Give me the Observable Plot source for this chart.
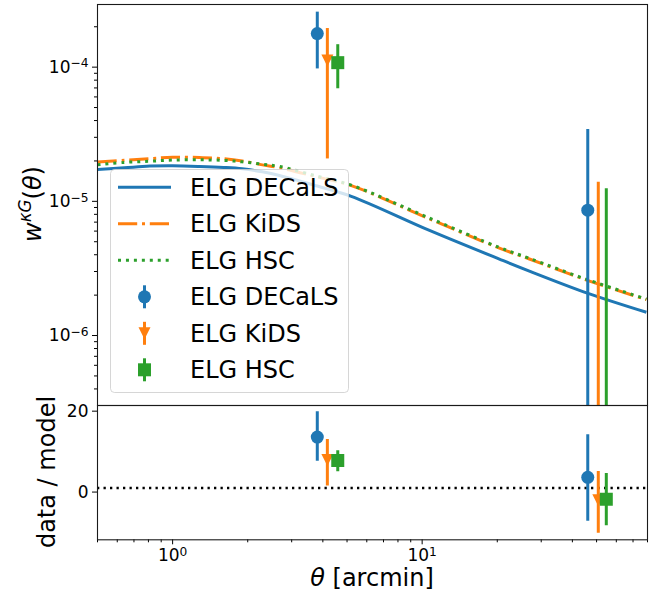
<!DOCTYPE html>
<html>
<head>
<meta charset="utf-8">
<script src="https://cdn.jsdelivr.net/npm/d3@7"></script>
<script src="https://cdn.jsdelivr.net/npm/@observablehq/plot@0.6"></script>
<style>
  body { margin: 0; background: #fff; font-family: "DejaVu Sans", sans-serif; }
  #wrap { position: relative; width: 657px; height: 597px; overflow: hidden; background: #fff; }
  #top, #bot, #legend { position: absolute; left: 0; }
  #top { top: 0; }
  #bot { top: 404px; }
  #legend { left: 110px; top: 168.5px; }
  .lab { position: absolute; font-family: "DejaVu Sans", sans-serif; font-size: 24px; line-height: 1;
         white-space: nowrap; color: #000; transform: translate(-50%, -50%); }
  .rot { transform: translate(-50%, -50%) rotate(-90deg); }
  .sup { font-size: 0.7em; vertical-align: 0.55em; }
</style>
</head>
<body>
<div id="wrap">
  <div id="top"></div>
  <div id="bot"></div>
  <div id="legend"></div>
  <div class="lab rot" style="left:30.5px;top:203.5px"><i>w</i><span class="sup"><i>κG</i></span>(<i>θ</i>)</div>
  <div class="lab rot" style="left:47px;top:472px">data / model</div>
  <div class="lab" style="left:372px;top:578px"><i>θ</i> [arcmin]</div>
</div>
<script>
// ---------------- data ----------------
const seriesNames = ["ELG DECaLS", "ELG KiDS", "ELG HSC"];

// model curves w^{kG}(theta)
const modelTheta   = [0.5, 0.64, 0.81, 1.0, 1.28, 1.6, 1.9, 2.29, 2.68, 3.8, 5.2, 10.7, 20.4, 26.9, 45.9, 79.2];
const modelDECaLS  = [1.73e-5, 1.78e-5, 1.83e-5, 1.84e-5, 1.82e-5, 1.79e-5, 1.75e-5, 1.66e-5, 1.56e-5, 1.30e-5, 1.09e-5, 6.07e-6, 3.71e-6, 3.02e-6, 2.07e-6, 1.49e-6];
const modelKiDS    = [1.96e-5, 2.02e-5, 2.08e-5, 2.13e-5, 2.12e-5, 2.08e-5, 2.00e-5, 1.87e-5, 1.78e-5, 1.52e-5, 1.31e-5, 7.40e-6, 4.48e-6, 3.72e-6, 2.58e-6, 1.85e-6];
const modelHSC     = [1.87e-5, 1.95e-5, 1.99e-5, 2.03e-5, 2.04e-5, 2.02e-5, 1.97e-5, 1.89e-5, 1.82e-5, 1.54e-5, 1.32e-5, 7.50e-6, 4.53e-6, 3.76e-6, 2.61e-6, 1.87e-6];

// measurements (top panel)
const thetaDECaLS = [3.80, 46.1];
const thetaKiDS   = [4.17, 50.8];
const thetaHSC    = [4.59, 54.7];
const wDECaLS   = [1.78e-4, 8.6e-6];
const wDECaLSLo = [9.7e-5, -1.7e-5];
const wDECaLSHi = [2.57e-4, 3.43e-5];
const wKiDS     = [1.12e-4, -4.9e-6];
const wKiDSLo   = [2.07e-5, -2.5e-5];
const wKiDSHi   = [1.94e-4, 1.39e-5];
const wHSC      = [1.08e-4, -4.4e-6];
const wHSCLo    = [6.9e-5, -2.0e-5];
const wHSCHi    = [1.47e-4, 1.24e-5];

// data / model (bottom panel)
const rDECaLS   = [13.6, 3.65];
const rDECaLSLo = [7.6, -7.2];
const rDECaLSHi = [19.85, 14.2];
const rKiDS     = [7.9, -2.0];
const rKiDSLo   = [1.5, -10.2];
const rKiDSHi   = [13.0, 5.1];
const rHSC      = [7.8, -1.8];
const rHSCLo    = [5.0, -8.3];
const rHSCHi    = [10.2, 4.6];
const refRatio  = [1];

// axes
const xDomain = [0.5, 80];
const yTopDomain = [3.01e-7, 2.93e-4];
const yBotDomain = [-11.8, 21.4];
const xMajor = [1, 10];
const xMajorLabels = ["10^0", "10^1"];
const yTopMajor = [1e-6, 1e-5, 1e-4];
const yTopLabels = ["10^−6", "10^−5", "10^−4"];
const yBotMajor = [0, 20];
const yBotLabels = ["0", "20"];

// ---------------- styles ----------------
const colors = ["#1f77b4", "#ff7f0e", "#2ca02c"];
const dashes = [null, "19.2,4.8,3,4.8", "3,4.95"];
const symSquare = {draw(ctx, size) { const r = Math.sqrt(size / Math.PI);
  ctx.moveTo(-r, -r); ctx.lineTo(r, -r); ctx.lineTo(r, r); ctx.lineTo(-r, r); ctx.closePath(); }};
const symTriDown = {draw(ctx, size) { const r = Math.sqrt(size / Math.PI);
  ctx.moveTo(0, r); ctx.lineTo(-r, -r); ctx.lineTo(r, -r); ctx.closePath(); }};
const symbols = ["circle", symTriDown, symSquare];
const symR = [6.5, 6, 6.5];
const tickFont = 17;

const models = [modelDECaLS, modelKiDS, modelHSC];
const measTheta = [thetaDECaLS, thetaKiDS, thetaHSC];
const measW = [[wDECaLS, wDECaLSLo, wDECaLSHi], [wKiDS, wKiDSLo, wKiDSHi], [wHSC, wHSCLo, wHSCHi]];
const measR = [[rDECaLS, rDECaLSLo, rDECaLSHi], [rKiDS, rKiDSLo, rKiDSHi], [rHSC, rHSCLo, rHSCHi]];

function minorLog([a, b]) {
  const out = [];
  for (let e = Math.floor(Math.log10(a)) - 1; e <= Math.ceil(Math.log10(b)); e++)
    for (let m = 2; m <= 9; m++) { const v = m * Math.pow(10, e); if (v >= a * 0.999 && v <= b * 1.001) out.push(v); }
  return out;
}
// render "10^x" labels as base + superscript tspan
function supify(svg) {
  d3.select(svg).selectAll("text").each(function () {
    const m = /^(.*)\^(.*)$/.exec(this.textContent);
    if (!m) return;
    const s = d3.select(this);
    s.text(null);
    s.append("tspan").text(m[1]);
    s.append("tspan").attr("dy", "-0.42em").attr("font-size", "0.72em").text(m[2]);
  });
}
const font = {fontFamily: "DejaVu Sans, sans-serif", fontSize: tickFont + "px", color: "#000", background: "transparent", overflow: "visible"};

// ---------------- top panel ----------------
const topMarks = [];
models.forEach((m, k) => {
  const rows = modelTheta.map((t, i) => ({t, w: m[i]}));
  topMarks.push(Plot.line(rows, {x: "t", y: "w", stroke: colors[k], strokeWidth: 3,
    strokeDasharray: dashes[k], strokeLinecap: "butt", curve: "catmull-rom"}));
});
measTheta.forEach((th, k) => {
  const [v, lo, hi] = measW[k];
  const rows = th.map((t, i) => ({t, v: v[i], lo: lo[i], hi: hi[i]}));
  topMarks.push(Plot.ruleX(rows, {x: "t", y1: d => Math.max(d.lo, yTopDomain[0] * 0.5), y2: "hi",
    stroke: colors[k], strokeWidth: 3, clip: true}));
  topMarks.push(Plot.dot(rows.filter(d => d.v > 0), {x: "t", y: "v", fill: colors[k], stroke: "none",
    r: symR[k], symbol: symbols[k], clip: true}));
});
topMarks.push(Plot.axisY({ticks: minorLog(yTopDomain), tickSize: 3, tickFormat: () => "", label: null, stroke: "#000"}));
topMarks.push(Plot.axisY({ticks: yTopMajor, tickSize: 5, tickPadding: 4, label: null, stroke: "#000",
  tickFormat: d => yTopLabels[yTopMajor.indexOf(d)], fontSize: tickFont}));
topMarks.push(Plot.frame({stroke: "#1a1a1a", strokeWidth: 1.1}));

const topPlot = Plot.plot({
  width: 657, height: 406, marginLeft: 97, marginRight: 10, marginTop: 4, marginBottom: 1,
  style: font,
  x: {type: "log", domain: xDomain, axis: null},
  y: {type: "log", domain: yTopDomain},
  marks: topMarks
});
supify(topPlot);
document.getElementById("top").appendChild(topPlot);

// ---------------- bottom panel ----------------
const botMarks = [
  Plot.ruleY(refRatio, {y: d => d, stroke: "#000", strokeWidth: 2.3, strokeDasharray: "2.3,4.2"})
];
measTheta.forEach((th, k) => {
  const [v, lo, hi] = measR[k];
  const rows = th.map((t, i) => ({t, v: v[i], lo: lo[i], hi: hi[i]}));
  botMarks.push(Plot.ruleX(rows, {x: "t", y1: "lo", y2: "hi", stroke: colors[k], strokeWidth: 3, clip: true}));
  botMarks.push(Plot.dot(rows, {x: "t", y: "v", fill: colors[k], stroke: "none", r: symR[k], symbol: symbols[k], clip: true}));
});
botMarks.push(Plot.axisY({ticks: yBotMajor, tickSize: 5, tickPadding: 4, label: null, stroke: "#000",
  tickFormat: d => yBotLabels[yBotMajor.indexOf(d)], fontSize: tickFont}));
botMarks.push(Plot.axisX({ticks: minorLog(xDomain), tickSize: 3, tickFormat: () => "", label: null, stroke: "#000"}));
botMarks.push(Plot.axisX({ticks: xMajor, tickSize: 5, tickPadding: 4, label: null, stroke: "#000",
  tickFormat: d => xMajorLabels[xMajor.indexOf(d)], fontSize: tickFont}));
botMarks.push(Plot.frame({stroke: "#1a1a1a", strokeWidth: 1.1}));

const botPlot = Plot.plot({
  width: 657, height: 193, marginLeft: 97, marginRight: 10, marginTop: 1, marginBottom: 57.7,
  style: font,
  x: {type: "log", domain: xDomain},
  y: {type: "linear", domain: yBotDomain},
  marks: botMarks
});
supify(botPlot);
document.getElementById("bot").appendChild(botPlot);

// ---------------- legend ----------------
const LW = 239, LH = 224, rowY0 = 18.3, rowStep = 36.5;
const leg = d3.select("#legend").append("svg").attr("width", LW).attr("height", LH)
  .style("font-family", "DejaVu Sans, sans-serif").style("overflow", "visible");
leg.append("rect").attr("x", 0.5).attr("y", 0.5).attr("width", LW - 1).attr("height", LH - 1).attr("rx", 4)
  .attr("fill", "#fff").attr("fill-opacity", 0.8).attr("stroke", "#cccccc").attr("stroke-opacity", 0.8).attr("stroke-width", 1);
const entries = [];
seriesNames.forEach((n, k) => entries.push({type: "line", k, name: n}));
seriesNames.forEach((n, k) => entries.push({type: "err", k, name: n}));
entries.forEach((e, i) => {
  const cy = rowY0 + i * rowStep;
  const g = leg.append("g");
  if (e.type === "line") {
    g.append("line").attr("x1", 8).attr("x2", 61).attr("y1", cy).attr("y2", cy)
      .attr("stroke", colors[e.k]).attr("stroke-width", 3).attr("stroke-dasharray", dashes[e.k]);
  } else {
    g.append("line").attr("x1", 34.5).attr("x2", 34.5).attr("y1", cy - 11.5).attr("y2", cy + 11.5)
      .attr("stroke", colors[e.k]).attr("stroke-width", 3);
    const sym = symbols[e.k] === "circle" ? d3.symbolCircle : symbols[e.k];
    g.append("path").attr("transform", `translate(34.5,${cy})`)
      .attr("d", d3.symbol(sym, symR[e.k] * symR[e.k] * Math.PI)()).attr("fill", colors[e.k]);
  }
  g.append("text").attr("x", 80).attr("y", cy).attr("dy", "0.36em").attr("font-size", 24).attr("fill", "#000").text(e.name);
});
</script>
</body>
</html>
